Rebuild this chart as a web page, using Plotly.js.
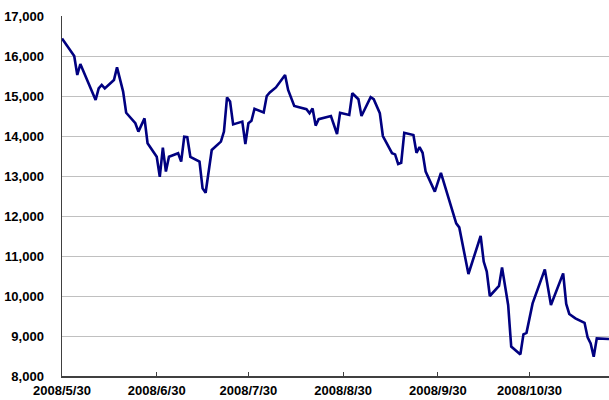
<!DOCTYPE html>
<html>
<head>
<meta charset="utf-8">
<script src="https://cdn.plot.ly/plotly-3.0.1.min.js"></script>
<style>
html,body{margin:0;padding:0;background:#fff;}
#chart{width:609px;height:400px;}
</style>
</head>
<body>
<div id="chart"></div>
<script>
const dates = [
"2008-05-30","2008-06-03","2008-06-04","2008-06-05","2008-06-10","2008-06-11","2008-06-12","2008-06-13",
"2008-06-16","2008-06-17","2008-06-19","2008-06-20","2008-06-23","2008-06-24","2008-06-26","2008-06-27",
"2008-06-30","2008-07-01","2008-07-02","2008-07-03","2008-07-04","2008-07-07","2008-07-08","2008-07-09",
"2008-07-10","2008-07-11","2008-07-14","2008-07-15","2008-07-16","2008-07-18","2008-07-21","2008-07-22",
"2008-07-23","2008-07-24","2008-07-25","2008-07-28","2008-07-29","2008-07-30","2008-07-31","2008-08-01",
"2008-08-04","2008-08-05","2008-08-06","2008-08-08","2008-08-11","2008-08-12","2008-08-14","2008-08-18",
"2008-08-19","2008-08-20","2008-08-21","2008-08-22","2008-08-26","2008-08-28","2008-08-29","2008-09-01",
"2008-09-02","2008-09-04","2008-09-05","2008-09-08","2008-09-09","2008-09-11","2008-09-12","2008-09-15",
"2008-09-16","2008-09-17","2008-09-18","2008-09-19","2008-09-22","2008-09-23","2008-09-24","2008-09-25",
"2008-09-26","2008-09-29","2008-10-01","2008-10-06","2008-10-07","2008-10-10","2008-10-14","2008-10-15",
"2008-10-16","2008-10-17","2008-10-20","2008-10-21","2008-10-23","2008-10-24","2008-10-27","2008-10-28",
"2008-10-29","2008-10-31","2008-11-04","2008-11-06","2008-11-10","2008-11-11","2008-11-12","2008-11-14",
"2008-11-17","2008-11-18","2008-11-19","2008-11-20","2008-11-21","2008-11-25"
];
const values = [
16440,16000,15525,15800,14900,15190,15275,15190,
15400,15715,15110,14580,14320,14110,14440,13820,
13480,12980,13710,13110,13480,13570,13360,13980,
13970,13480,13360,12690,12580,13650,13860,14110,
14965,14860,14290,14360,13800,14320,14380,14680,
14590,15000,15090,15215,15525,15150,14750,14670,
14570,14690,14260,14420,14500,14050,14580,14525,
15070,14920,14500,14970,14920,14570,14000,13570,
13540,13300,13330,14080,14025,13580,13720,13580,
13110,12610,13080,11815,11715,10550,11500,10860,
10610,10000,10250,10715,9775,8735,8540,9040,
9080,9815,10665,9775,10565,9800,9550,9440,
9330,8965,8815,8480,8940,8925
];
const xTickVals = ["2008-05-30","2008-06-30","2008-07-30","2008-08-30","2008-09-30","2008-10-30"];
const xTickText = ["2008/5/30","2008/6/30","2008/7/30","2008/8/30","2008/9/30","2008/10/30"];
const yTickVals = [8000,9000,10000,11000,12000,13000,14000,15000,16000,17000];
const yTickText = ["8,000","9,000","10,000","11,000","12,000","13,000","14,000","15,000","16,000","17,000"];

const trace = {
  x: dates, y: values, type: "scatter", mode: "lines",
  line: {color: "#000080", width: 2.6},
  hoverinfo: "skip"
};
const layout = {
  width: 609, height: 400,
  margin: {l: 62, r: 0, t: 16, b: 24, pad: 0},
  paper_bgcolor: "#ffffff", plot_bgcolor: "#ffffff",
  showlegend: false,
  xaxis: {
    type: "date",
    range: ["2008-05-30", "2008-11-25"],
    tickmode: "array", tickvals: xTickVals, ticktext: xTickText,
    ticks: "inside", ticklen: 4, tickcolor: "#404040", tickwidth: 1,
    showgrid: false, zeroline: false,
    showline: true, linecolor: "#404040", linewidth: 1.5,
    tickfont: {family: "Liberation Sans, Arial, sans-serif", size: 13, color: "#000", weight: "bold"},
    ticklabelstandoff: 2,
    fixedrange: true
  },
  yaxis: {
    range: [8000, 17000],
    tickmode: "array", tickvals: yTickVals, ticktext: yTickText,
    ticks: "", showgrid: true, gridcolor: "#c0c0c0", gridwidth: 1,
    zeroline: false,
    showline: true, linecolor: "#404040", linewidth: 1.5,
    tickfont: {family: "Liberation Sans, Arial, sans-serif", size: 13, color: "#000", weight: "bold"},
    ticklabelstandoff: 14,
    fixedrange: true
  }
};
Plotly.newPlot("chart", [trace], layout, {staticPlot: true, displayModeBar: false});
</script>
</body>
</html>
